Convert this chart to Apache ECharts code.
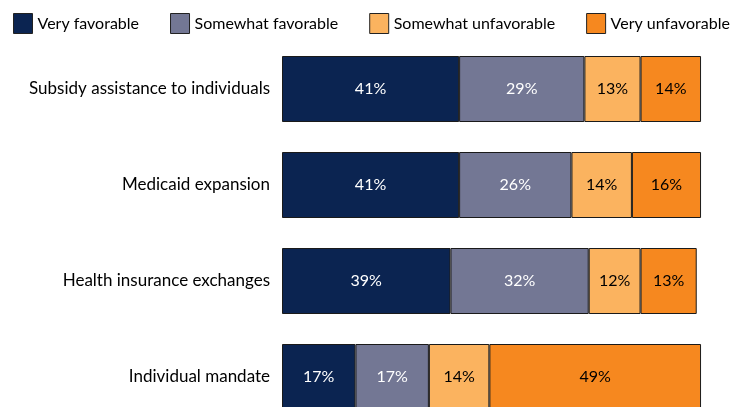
<!DOCTYPE html>
<html>
<head>
<meta charset="utf-8">
<script src="https://cdn.jsdelivr.net/npm/echarts@6/dist/echarts.min.js"></script>
<style>
  html, body { margin: 0; padding: 0; background: #fff; }
  #chart { width: 735px; height: 407px; }
</style>
</head>
<body>
<div id="chart"></div>
<script>
// Categories, top to bottom
const categories = [
  'Subsidy assistance to individuals',
  'Medicaid expansion',
  'Health insurance exchanges',
  'Individual mandate'
];
const seriesNames = ['Very favorable', 'Somewhat favorable', 'Somewhat unfavorable', 'Very unfavorable'];
const veryFavorable = [41, 41, 39, 17];
const somewhatFavorable = [29, 26, 32, 17];
const somewhatUnfavorable = [13, 14, 12, 14];
const veryUnfavorable = [14, 16, 13, 49];

const colors = ['#0b2451', '#737794', '#fbb35f', '#f6881f'];
const labelColors = ['#ffffff', '#ffffff', '#000000', '#000000'];
const values = [veryFavorable, somewhatFavorable, somewhatUnfavorable, veryUnfavorable];
const font = 'Lato, "Open Sans", sans-serif';

const chart = echarts.init(document.getElementById('chart'));
chart.setOption({
  animation: false,
  legend: {
    left: 8,
    top: 8,
    itemWidth: 19,
    itemHeight: 20,
    itemGap: 31,
    icon: 'rect',
    textStyle: { fontFamily: font, fontSize: 16, color: '#000' },
    data: seriesNames.map((n, i) => ({
      name: n,
      itemStyle: { color: colors[i], borderColor: '#222', borderWidth: 1 }
    }))
  },
  // the last band runs past the bottom edge, so the grid is allowed to overflow
  grid: { left: 282, top: 41, width: 432, height: 384, outerBoundsMode: 'none', containLabel: false },
  xAxis: {
    type: 'value', min: 0, max: 100,
    show: false
  },
  yAxis: {
    type: 'category',
    inverse: true,
    data: categories,
    axisLine: { show: false },
    axisTick: { show: false },
    axisLabel: { margin: 12, fontFamily: font, fontSize: 17, color: '#000' }
  },
  series: seriesNames.map((n, i) => ({
    name: n,
    type: 'bar',
    stack: 'total',
    barWidth: 66,
    data: values[i],
    itemStyle: { color: colors[i], borderColor: '#1a1a1a', borderWidth: 1 },
    label: {
      show: true,
      position: 'inside',
      formatter: p => p.value + '%',
      fontFamily: font,
      fontSize: 16,
      color: labelColors[i]
    }
  }))
});
</script>
</body>
</html>
